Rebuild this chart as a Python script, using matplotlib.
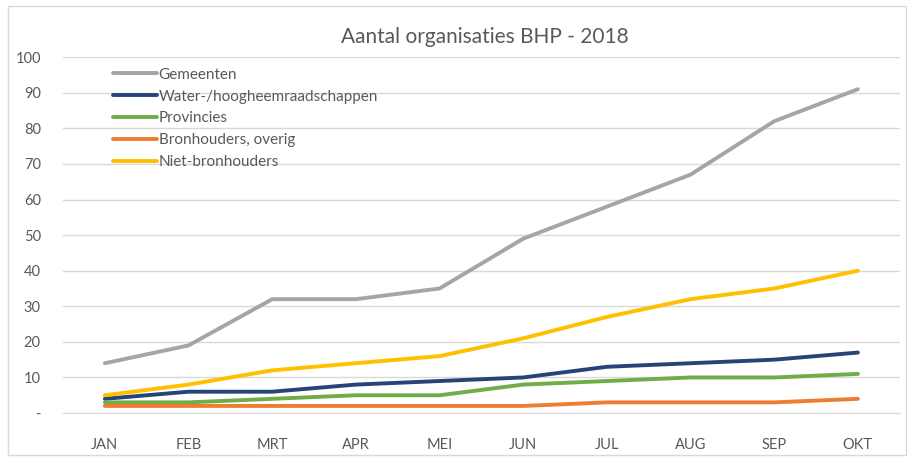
import numpy as np
from matplotlib import pyplot as plt
from matplotlib.patches import Rectangle

months = ['JAN', 'FEB', 'MRT', 'APR', 'MEI', 'JUN', 'JUL', 'AUG', 'SEP', 'OKT']
gemeenten = [14, 19, 32, 32, 35, 49, 58, 67, 82, 91]
waterschappen = [4, 6, 6, 8, 9, 10, 13, 14, 15, 17]
provincies = [3, 3, 4, 5, 5, 8, 9, 10, 10, 11]
overig = [2, 2, 2, 2, 2, 2, 3, 3, 3, 4]
niet_bronhouders = [5, 8, 12, 14, 16, 21, 27, 32, 35, 40]

series = [
    ('Gemeenten', gemeenten, '#A5A5A5'),
    ('Water-/hoogheemraadschappen', waterschappen, '#264478'),
    ('Provincies', provincies, '#70AD47'),
    ('Bronhouders, overig', overig, '#ED7D31'),
    ('Niet-bronhouders', niet_bronhouders, '#FFC000'),
]

plt.rcParams['font.family'] = ['Lato', 'DejaVu Sans']
txt = '#595959'

fig = plt.figure(figsize=(9.07, 4.61), dpi=100)
ax = fig.add_axes([0.0695, 0.104, 0.9225, 0.772])

x = np.arange(len(months))
for name, vals, col in series:
    ax.plot(x, vals, color=col, linewidth=2.8, label=name, solid_capstyle='round')

ax.set_xlim(-0.5, len(months) - 0.5)
ax.set_ylim(0, 100)
ax.set_yticks(range(0, 101, 10))
ax.set_yticklabels(['-'] + [str(v) for v in range(10, 101, 10)])
ax.set_xticks(x)
ax.set_xticklabels(months)
ax.tick_params(axis='both', length=0, labelsize=10.5, colors=txt)
ax.tick_params(axis='x', pad=18)
ax.tick_params(axis='y', pad=16)
ax.grid(axis='y', color='#D9D9D9', linewidth=1)
ax.set_axisbelow(True)
for s in ['top', 'right', 'left']:
    ax.spines[s].set_visible(False)
ax.spines['bottom'].set_color('#D9D9D9')

ax.legend(loc='upper left', bbox_to_anchor=(0.045, 1.005), frameon=False,
          fontsize=11, labelcolor=txt, handlelength=2.9, handletextpad=0.1,
          labelspacing=0.52, borderpad=0.3)

fig.text(0.535, 0.92, 'Aantal organisaties BHP - 2018', ha='center', va='center',
         fontsize=15, color=txt)

fig.patches.append(Rectangle((0.009, 0.012), 0.99, 0.975, transform=fig.transFigure,
                             fill=False, edgecolor='#D9D9D9', linewidth=1))

plt.savefig('out.png', dpi=100)
